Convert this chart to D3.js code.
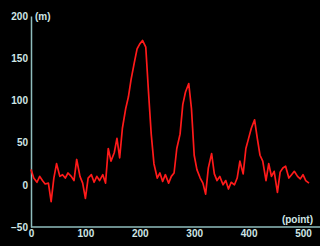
<!DOCTYPE html>
<html>
<head>
<meta charset="utf-8">
<script src="https://cdn.jsdelivr.net/npm/d3@7"></script>
<style>
  body { margin: 0; background: #000; }
  svg { display: block; }
  text { font-family: "Liberation Sans", Arial, sans-serif; font-weight: bold; font-size: 10px; fill: #cfe6e6; }
</style>
</head>
<body>
<div id="chart"></div>
<script>
// data
var points = [0,5,11,16,21,26,32,37,42,47,53,58,63,68,74,79,84,90,95,100,
  105,111,116,121,126,132,137,142,147,153,158,163,168,174,179,184,190,195,200,205,
  211,216,221,226,232,237,242,247,253,258,263,268,274,279,284,290,295,300,305,311,
  316,321,326,332,337,342,347,353,358,363,368,374,379,384,390,395,400,405,411,416,
  421,426,432,437,442,447,453,458,463,468,474,479,484,490,495,500,505,511];
var heights = [18,8,3,10,5,1,2,-20,8,25,10,12,8,14,10,5,30,10,2,-16,
  8,12,3,10,5,12,2,43,28,38,55,32,67,90,104,125,145,161,167,171,
  163,110,60,25,8,14,4,12,2,10,14,43,60,95,110,120,90,35,18,8,
  2,-11,20,37,13,5,10,0,5,-5,3,0,8,28,13,43,55,67,77,55,
  35,28,5,25,10,16,-9,15,20,22,8,12,16,10,7,12,5,2];
var yTicks = [-50, 0, 50, 100, 150, 200];
var xTicks = [0, 100, 200, 300, 400, 500];

var width = 320, height = 246;
var svg = d3.select("#chart").append("svg")
  .attr("width", width)
  .attr("height", height);

var x = d3.scaleLinear().domain([0, 500]).range([31, 303]);
var y = d3.scaleLinear().domain([-50, 200]).range([227, 16]);

var axisColor = "#8fbdbd";

// y axis
var yAxis = svg.append("g")
  .attr("transform", "translate(31,0)")
  .call(d3.axisLeft(y).tickValues(yTicks).tickSize(0).tickPadding(3));
yAxis.select(".domain").attr("stroke", axisColor).attr("stroke-width", 1.5);
yAxis.selectAll("text").attr("fill", "#cfe6e6").style("font-size", "10px").attr("font-family", null);

// x axis
var xAxis = svg.append("g")
  .attr("transform", "translate(0,227)")
  .call(d3.axisBottom(x).tickValues(xTicks).tickSize(0).tickPadding(3));
xAxis.select(".domain").attr("d", "M31,0H320").attr("stroke", axisColor).attr("stroke-width", 1.5);
xAxis.selectAll("text").attr("fill", "#cfe6e6").style("font-size", "10px").attr("font-family", null);

// units
svg.append("text").attr("x", 35).attr("y", 19.5).text("(m)");
svg.append("text").attr("x", 313).attr("y", 223).attr("text-anchor", "end").text("(point)");

// the series
var line = d3.line()
  .x(function (d, i) { return x(points[i]); })
  .y(function (d) { return y(d); });

svg.append("path")
  .datum(heights)
  .attr("d", line)
  .attr("fill", "none")
  .attr("stroke", "#ff1a1a")
  .attr("stroke-width", 1.7)
  .attr("stroke-linejoin", "round");
</script>
</body>
</html>
